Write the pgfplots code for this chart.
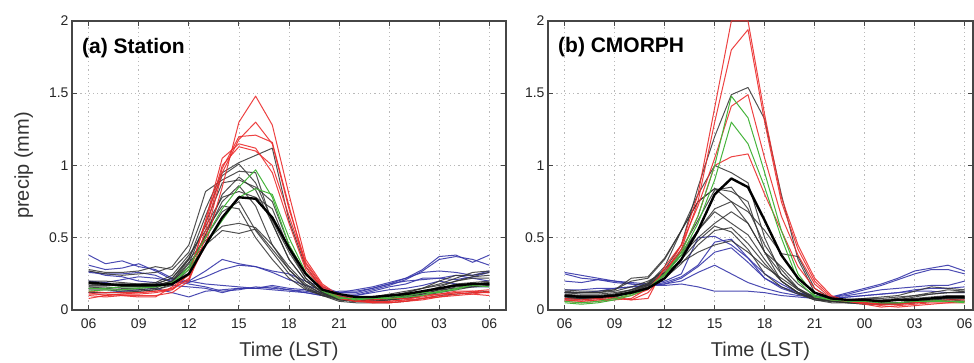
\documentclass[border=0pt]{standalone}
\usepackage{pgfplots}
\usepackage{pgfplotstable}
\pgfplotsset{compat=1.18}
\usepackage{fontspec}
\setmainfont{Liberation Sans}
\definecolor{cred}{RGB}{235,45,45}
\definecolor{cgreen}{RGB}{70,180,60}
\definecolor{cblue}{RGB}{55,55,170}
\definecolor{cblack}{RGB}{50,50,50}
\definecolor{cframe}{RGB}{70,70,70}

% rows = series, columns = hour index (0 = 06 LST ... 24 = 06 LST)
\pgfplotstableread{
name 0 1 2 3 4 5 6 7 8 9 10 11 12 13 14 15 16 17 18 19 20 21 22 23 24
b1 0.38 0.32 0.34 0.30 0.28 0.22 0.20 0.27 0.35 0.32 0.30 0.27 0.25 0.20 0.16 0.12 0.12 0.15 0.18 0.22 0.28 0.37 0.38 0.33 0.38
b2 0.31 0.28 0.29 0.32 0.27 0.21 0.19 0.23 0.28 0.31 0.30 0.26 0.21 0.17 0.14 0.11 0.11 0.14 0.17 0.21 0.27 0.35 0.37 0.35 0.31
b3 0.27 0.24 0.23 0.20 0.19 0.17 0.16 0.15 0.12 0.15 0.15 0.14 0.13 0.12 0.10 0.09 0.10 0.13 0.16 0.18 0.22 0.22 0.24 0.22 0.20
b4 0.12 0.12 0.13 0.14 0.15 0.12 0.09 0.13 0.14 0.15 0.15 0.16 0.14 0.12 0.10 0.09 0.10 0.12 0.14 0.15 0.17 0.20 0.18 0.16 0.16
b5 0.20 0.19 0.21 0.23 0.22 0.20 0.18 0.16 0.13 0.14 0.16 0.15 0.14 0.13 0.11 0.13 0.13 0.15 0.18 0.20 0.21 0.22 0.21 0.23 0.26
b6 0.26 0.25 0.25 0.26 0.24 0.19 0.20 0.18 0.17 0.16 0.15 0.17 0.15 0.14 0.12 0.12 0.14 0.16 0.19 0.22 0.26 0.27 0.26 0.24 0.27
k1 0.28 0.26 0.26 0.27 0.30 0.28 0.40 0.70 0.95 1.02 1.07 1.12 0.62 0.30 0.15 0.09 0.08 0.08 0.09 0.12 0.15 0.18 0.22 0.26 0.27
k2 0.27 0.25 0.24 0.25 0.26 0.30 0.45 0.82 0.90 0.96 0.95 0.60 0.35 0.20 0.12 0.08 0.07 0.08 0.10 0.12 0.15 0.20 0.24 0.24 0.26
k3 0.18 0.17 0.17 0.16 0.17 0.20 0.35 0.65 0.93 1.01 0.88 0.62 0.40 0.22 0.12 0.07 0.06 0.06 0.07 0.08 0.10 0.13 0.16 0.17 0.18
k4 0.16 0.16 0.15 0.15 0.16 0.19 0.32 0.60 0.88 0.90 0.85 0.75 0.45 0.25 0.13 0.08 0.07 0.07 0.08 0.10 0.12 0.15 0.18 0.19 0.20
k5 0.14 0.14 0.13 0.13 0.14 0.18 0.30 0.50 0.68 0.75 0.55 0.40 0.25 0.15 0.10 0.07 0.06 0.07 0.08 0.09 0.11 0.14 0.15 0.16 0.17
k6 0.20 0.20 0.19 0.18 0.18 0.22 0.35 0.48 0.58 0.60 0.57 0.45 0.30 0.18 0.11 0.08 0.08 0.09 0.11 0.13 0.15 0.17 0.20 0.22 0.22
k7 0.15 0.15 0.16 0.16 0.17 0.20 0.33 0.45 0.55 0.53 0.56 0.42 0.28 0.17 0.11 0.08 0.07 0.06 0.07 0.08 0.10 0.12 0.14 0.16 0.17
k8 0.17 0.17 0.18 0.17 0.18 0.22 0.36 0.58 0.78 0.82 0.78 0.70 0.42 0.22 0.12 0.07 0.06 0.06 0.07 0.09 0.11 0.14 0.17 0.18 0.19
k9 0.19 0.18 0.18 0.18 0.19 0.24 0.38 0.55 0.72 0.70 0.50 0.35 0.22 0.14 0.10 0.08 0.07 0.07 0.08 0.10 0.12 0.15 0.17 0.18 0.19
k10 0.12 0.12 0.12 0.13 0.14 0.17 0.28 0.52 0.75 0.86 0.72 0.45 0.28 0.16 0.10 0.06 0.05 0.05 0.05 0.06 0.08 0.10 0.11 0.12 0.13
k11 0.16 0.15 0.14 0.14 0.15 0.20 0.30 0.52 0.80 0.92 0.83 0.60 0.35 0.20 0.12 0.08 0.07 0.07 0.08 0.10 0.12 0.16 0.20 0.23 0.24
r1 0.12 0.10 0.11 0.11 0.12 0.14 0.22 0.45 0.85 1.30 1.48 1.28 0.80 0.35 0.18 0.10 0.08 0.06 0.05 0.06 0.08 0.09 0.11 0.12 0.12
r2 0.10 0.09 0.10 0.10 0.10 0.12 0.20 0.50 0.95 1.18 1.30 1.15 0.70 0.33 0.17 0.09 0.07 0.05 0.05 0.06 0.07 0.09 0.10 0.11 0.10
r3 0.13 0.12 0.12 0.12 0.13 0.15 0.21 0.55 0.98 1.20 1.21 1.16 0.72 0.30 0.15 0.08 0.06 0.06 0.06 0.07 0.08 0.10 0.12 0.13 0.14
r4 0.08 0.10 0.11 0.12 0.13 0.14 0.25 0.60 1.00 1.13 1.10 1.00 0.65 0.32 0.16 0.09 0.07 0.07 0.08 0.08 0.09 0.11 0.12 0.11 0.13
r5 0.11 0.11 0.10 0.09 0.09 0.16 0.24 0.62 1.05 1.15 1.12 0.95 0.60 0.28 0.15 0.08 0.06 0.05 0.06 0.07 0.10 0.11 0.13 0.13 0.12
g1 0.13 0.14 0.14 0.15 0.16 0.18 0.30 0.50 0.70 0.85 0.97 0.78 0.45 0.25 0.13 0.08 0.08 0.08 0.09 0.10 0.12 0.12 0.15 0.17 0.16
g2 0.15 0.15 0.16 0.16 0.16 0.19 0.28 0.45 0.62 0.78 0.84 0.80 0.50 0.26 0.14 0.09 0.07 0.08 0.08 0.09 0.10 0.13 0.14 0.18 0.18
m 0.19 0.18 0.17 0.17 0.17 0.18 0.25 0.45 0.64 0.78 0.77 0.64 0.43 0.25 0.14 0.11 0.09 0.09 0.10 0.11 0.13 0.15 0.17 0.18 0.18
}\rawA
\pgfplotstabletranspose[colnames from=name]\tabA{\rawA}

\pgfplotstableread{
name 0 1 2 3 4 5 6 7 8 9 10 11 12 13 14 15 16 17 18 19 20 21 22 23 24
b1 0.26 0.24 0.22 0.20 0.19 0.18 0.20 0.25 0.50 0.51 0.45 0.36 0.25 0.18 0.12 0.10 0.09 0.12 0.15 0.18 0.22 0.27 0.29 0.31 0.27
b2 0.25 0.22 0.21 0.20 0.18 0.17 0.18 0.22 0.30 0.40 0.43 0.33 0.22 0.15 0.11 0.09 0.09 0.11 0.14 0.17 0.21 0.25 0.28 0.28 0.25
b3 0.20 0.19 0.21 0.19 0.18 0.17 0.18 0.20 0.26 0.31 0.25 0.19 0.15 0.12 0.10 0.09 0.09 0.10 0.12 0.14 0.15 0.16 0.17 0.17 0.20
b4 0.14 0.14 0.15 0.15 0.16 0.17 0.17 0.18 0.16 0.13 0.13 0.13 0.12 0.10 0.09 0.08 0.08 0.09 0.10 0.11 0.12 0.13 0.13 0.12 0.12
b5 0.12 0.12 0.13 0.15 0.16 0.17 0.19 0.23 0.31 0.47 0.49 0.36 0.22 0.16 0.12 0.09 0.08 0.09 0.10 0.11 0.12 0.14 0.15 0.15 0.16
k1 0.10 0.09 0.09 0.10 0.13 0.18 0.30 0.55 0.80 1.00 0.95 0.88 0.50 0.25 0.14 0.08 0.06 0.06 0.06 0.05 0.05 0.06 0.07 0.08 0.09
k2 0.12 0.11 0.11 0.12 0.14 0.18 0.28 0.45 0.85 1.20 1.49 1.54 1.32 0.80 0.35 0.12 0.07 0.06 0.06 0.05 0.05 0.06 0.07 0.08 0.09
k3 0.13 0.12 0.12 0.14 0.20 0.22 0.35 0.55 0.75 0.84 0.75 0.60 0.40 0.25 0.15 0.09 0.07 0.07 0.08 0.08 0.09 0.10 0.11 0.12 0.13
k4 0.09 0.08 0.08 0.09 0.12 0.17 0.26 0.42 0.62 0.83 0.85 0.70 0.45 0.28 0.15 0.08 0.06 0.05 0.04 0.04 0.05 0.06 0.07 0.08 0.08
k5 0.11 0.10 0.10 0.11 0.14 0.19 0.28 0.40 0.55 0.70 0.75 0.68 0.55 0.39 0.37 0.15 0.08 0.07 0.07 0.07 0.08 0.10 0.12 0.14 0.13
k6 0.08 0.08 0.09 0.10 0.13 0.17 0.25 0.38 0.55 0.68 0.60 0.52 0.35 0.20 0.12 0.07 0.06 0.05 0.05 0.04 0.04 0.05 0.06 0.07 0.08
k7 0.10 0.10 0.10 0.11 0.14 0.18 0.26 0.38 0.50 0.60 0.68 0.60 0.40 0.30 0.18 0.10 0.07 0.06 0.06 0.06 0.07 0.08 0.09 0.10 0.10
k8 0.07 0.07 0.08 0.09 0.12 0.16 0.22 0.32 0.45 0.55 0.57 0.46 0.32 0.20 0.12 0.07 0.05 0.05 0.04 0.04 0.04 0.05 0.06 0.06 0.07
k9 0.12 0.12 0.12 0.13 0.16 0.20 0.26 0.33 0.40 0.45 0.48 0.40 0.30 0.22 0.14 0.08 0.06 0.06 0.06 0.06 0.07 0.09 0.11 0.12 0.12
k10 0.09 0.08 0.09 0.10 0.12 0.16 0.24 0.35 0.48 0.58 0.54 0.42 0.25 0.16 0.11 0.07 0.06 0.05 0.05 0.04 0.05 0.05 0.06 0.07 0.08
k11 0.14 0.13 0.13 0.14 0.22 0.23 0.36 0.55 0.75 0.84 0.82 0.75 0.40 0.20 0.12 0.08 0.07 0.07 0.08 0.09 0.10 0.13 0.16 0.15 0.14
r1 0.06 0.05 0.06 0.07 0.08 0.15 0.25 0.45 0.80 1.40 2.00 2.00 1.35 0.78 0.45 0.22 0.10 0.06 0.05 0.03 0.02 0.03 0.04 0.05 0.05
r2 0.07 0.06 0.07 0.08 0.07 0.12 0.25 0.42 0.75 1.30 1.80 1.94 1.30 0.75 0.42 0.20 0.09 0.06 0.05 0.04 0.04 0.05 0.06 0.06 0.06
r3 0.08 0.07 0.08 0.09 0.07 0.08 0.30 0.45 0.72 1.05 1.41 1.49 1.05 0.65 0.38 0.18 0.08 0.06 0.05 0.04 0.04 0.05 0.06 0.07 0.07
r4 0.07 0.06 0.07 0.08 0.10 0.14 0.28 0.40 0.65 1.00 1.06 1.08 0.80 0.55 0.30 0.15 0.07 0.06 0.04 0.02 0.03 0.04 0.05 0.05 0.06
g1 0.05 0.04 0.05 0.07 0.10 0.15 0.25 0.40 0.65 1.00 1.48 1.33 0.95 0.55 0.25 0.10 0.07 0.06 0.06 0.05 0.05 0.06 0.06 0.06 0.06
g2 0.06 0.05 0.06 0.08 0.11 0.15 0.24 0.38 0.60 0.90 1.30 1.15 0.85 0.50 0.20 0.09 0.07 0.07 0.06 0.06 0.07 0.07 0.07 0.06 0.05
m 0.10 0.09 0.09 0.10 0.12 0.15 0.22 0.35 0.55 0.80 0.91 0.85 0.62 0.38 0.22 0.12 0.08 0.07 0.07 0.06 0.07 0.07 0.08 0.09 0.09
}\rawB
\pgfplotstabletranspose[colnames from=name]\tabB{\rawB}

\pgfplotsset{
  panel/.style={
    scale only axis, height=289pt,
    xmin=-1, ymin=0, ymax=2,
    xtick={0,3,...,24}, xticklabels={06,09,12,15,18,21,00,03,06},
    ytick={0,0.5,1,1.5,2}, yticklabels={0,0.5,1,1.5,2},
    grid=major, major grid style={dash pattern=on 1.2pt off 3pt, gray!55, line width=0.6pt},
    tick align=inside, major tick length=5pt,
    tick style={cframe, line width=0.9pt},
    axis line style={cframe, line width=1.4pt},
    ticklabel style={font=\fontsize{14}{16}\selectfont, text=black!85},
    xticklabel style={yshift=-5pt},
    xlabel={Time (LST)},
    label style={font=\fontsize{20}{22}\selectfont, text=black!80},
    xlabel style={yshift=-7pt},
    clip=true,
  },
  sred/.style={cred, line width=1pt, line join=round, opacity=0.9},
  sgreen/.style={cgreen, line width=1pt, line join=round},
  sblue/.style={cblue, line width=1pt, line join=round, opacity=0.9},
  sblack/.style={cblack, line width=1pt, line join=round, opacity=0.85},
  smean/.style={black, line width=2.4pt, line join=round},
}

\begin{document}
\begin{tikzpicture}[x=1pt,y=1pt]
\useasboundingbox (0,0) rectangle (974,363);
\clip (0,0) rectangle (974,363);
\begin{axis}[panel, width=434pt, xmax=25, at={(72pt,53pt)}, anchor=south west,
  ylabel={precip (mm)}, ylabel style={yshift=9pt}]
  \pgfplotsinvokeforeach{b1,b2,b3,b4,b5,b6}{\addplot[sblue] table[x expr=\coordindex, y=#1]{\tabA};}
  \pgfplotsinvokeforeach{k1,k2,k3,k4,k5,k6,k7,k8,k9,k10,k11}{\addplot[sblack] table[x expr=\coordindex, y=#1]{\tabA};}
  \pgfplotsinvokeforeach{r1,r2,r3,r4,r5}{\addplot[sred] table[x expr=\coordindex, y=#1]{\tabA};}
  \pgfplotsinvokeforeach{g1,g2}{\addplot[sgreen] table[x expr=\coordindex, y=#1]{\tabA};}
  \addplot[smean] table[x expr=\coordindex, y=m]{\tabA};
  \node[anchor=base west, inner sep=0pt, font=\bfseries\fontsize{21}{24}\selectfont] at (rel axis cs:0.023,0.886) {(a) Station};
\end{axis}
\begin{axis}[panel, width=425pt, xmax=24.5, at={(548pt,53pt)}, anchor=south west]
  \pgfplotsinvokeforeach{b1,b2,b3,b4,b5}{\addplot[sblue] table[x expr=\coordindex, y=#1]{\tabB};}
  \pgfplotsinvokeforeach{k1,k2,k3,k4,k5,k6,k7,k8,k9,k10,k11}{\addplot[sblack] table[x expr=\coordindex, y=#1]{\tabB};}
  \pgfplotsinvokeforeach{r1,r2,r3,r4}{\addplot[sred] table[x expr=\coordindex, y=#1]{\tabB};}
  \pgfplotsinvokeforeach{g1,g2}{\addplot[sgreen] table[x expr=\coordindex, y=#1]{\tabB};}
  \addplot[smean] table[x expr=\coordindex, y=m]{\tabB};
  \node[anchor=base west, inner sep=0pt, font=\bfseries\fontsize{21}{24}\selectfont] at (rel axis cs:0.0235,0.89) {(b) CMORPH};
\end{axis}
\end{tikzpicture}
\end{document}
